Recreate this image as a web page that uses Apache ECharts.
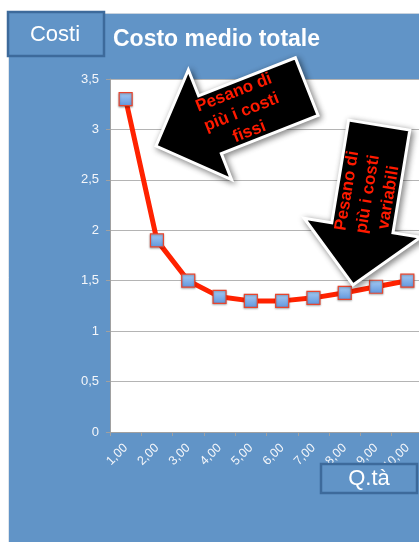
<!DOCTYPE html>
<html>
<head>
<meta charset="utf-8">
<title>Costo medio totale</title>
<script src="https://cdn.jsdelivr.net/npm/echarts@6/dist/echarts.min.js"></script>
<style>
  html, body { margin: 0; padding: 0; background: #ffffff; }
  #chart { width: 419px; height: 542px; }
</style>
</head>
<body>
<div id="chart"></div>
<script>
// Quantità prodotte (etichette asse X)
const qtyLabels = ['1,00', '2,00', '3,00', '4,00', '5,00', '6,00', '7,00', '8,00', '9,00', '10,00'];
// Costo medio totale per ciascuna quantità
const costoMedio = [3.3, 1.9, 1.5, 1.34, 1.3, 1.3, 1.33, 1.38, 1.44, 1.5];
// Scala dell'asse Y
const yMin = 0;
const yMax = 3.5;
const yStep = 0.5;

const chartTitle = 'Costo medio totale';
const yAxisName = 'Costi';
const xAxisName = 'Q.tà';
const notaFissi = 'Pesano di\npiù i costi\nfissi';
const notaVariabili = 'Pesano di\npiù i costi\nvariabili';

const PANEL = '#6194c7';
const BOX_BORDER = '#3d6a9b';
const FONT = '"Liberation Sans", Arial, Helvetica, sans-serif';

// Block arrow polygon: tip point, direction (degrees, screen coords),
// total length, head length, half head width, half shaft width.
function arrowPoints(tip, angleDeg, len, headLen, headHalf, shaftHalf) {
  const a = angleDeg * Math.PI / 180;
  const d = [Math.cos(a), Math.sin(a)];     // tail -> tip
  const n = [-d[1], d[0]];
  const p = (along, across) => [tip[0] - d[0] * along + n[0] * across,
                                 tip[1] - d[1] * along + n[1] * across];
  return [
    p(len, -shaftHalf), p(len, shaftHalf),
    p(headLen, shaftHalf), p(headLen, headHalf),
    tip,
    p(headLen, -headHalf), p(headLen, -shaftHalf)
  ];
}
function alongPoint(tip, angleDeg, along) {
  const a = angleDeg * Math.PI / 180;
  return [tip[0] - Math.cos(a) * along, tip[1] - Math.sin(a) * along];
}

function blockArrow(tip, angleDeg, text, textRot) {
  const c = alongPoint(tip, angleDeg, 92);
  return [
    {
      type: 'polygon',
      z: 100,
      shape: { points: arrowPoints(tip, angleDeg, 162, 58, 59, 31) },
      style: {
        fill: '#000000',
        stroke: '#ffffff',
        lineWidth: 3,
        lineJoin: 'miter',
        shadowBlur: 6,
        shadowOffsetX: 2,
        shadowOffsetY: 2,
        shadowColor: 'rgba(0,0,0,0.45)'
      }
    },
    {
      type: 'text',
      z: 101,
      x: c[0],
      y: c[1],
      rotation: textRot,
      style: {
        text: text,
        fill: '#ff1a00',
        font: 'bold 17px ' + FONT,
        lineHeight: 21,
        align: 'center',
        verticalAlign: 'middle'
      }
    }
  ];
}

const chart = echarts.init(document.getElementById('chart'), null, { renderer: 'canvas' });

chart.setOption({
  backgroundColor: PANEL,
  animation: false,
  grid: {
    left: 110,
    top: 79,
    width: 313,
    height: 353,
    show: true,
    backgroundColor: '#ffffff',
    borderWidth: 0,
    containLabel: false,
    outerBoundsMode: 'none'
  },
  xAxis: {
    type: 'category',
    data: qtyLabels,
    boundaryGap: true,
    axisLine: { show: true, lineStyle: { color: '#a0a0a0', width: 1 } },
    axisTick: { show: true, alignWithLabel: false, length: 4, lineStyle: { color: '#a0a0a0' } },
    axisLabel: {
      interval: 0,
      rotate: 45,
      margin: 14,
      color: '#f4f6fa',
      fontSize: 12.5,
      fontFamily: FONT
    },
    splitLine: { show: false }
  },
  yAxis: {
    type: 'value',
    min: yMin,
    max: yMax,
    interval: yStep,
    axisLine: { show: true, lineStyle: { color: '#a0a0a0', width: 1 } },
    axisTick: { show: true, length: 4, lineStyle: { color: '#a0a0a0' } },
    axisLabel: {
      margin: 11,
      color: '#f4f6fa',
      fontSize: 13,
      fontFamily: FONT,
      formatter: v => String(v).replace('.', ',')
    },
    splitLine: { show: true, lineStyle: { color: '#b4b4b4', width: 1 } }
  },
  series: [{
    type: 'line',
    data: costoMedio,
    lineStyle: { color: '#ff2200', width: 5 },
    symbol: 'rect',
    symbolSize: 13,
    itemStyle: {
      color: new echarts.graphic.LinearGradient(0, 0, 0, 1, [
        { offset: 0, color: '#a9cdf5' },
        { offset: 1, color: '#5f95dc' }
      ]),
      borderColor: '#e8452e',
      borderWidth: 1.2,
      shadowBlur: 2,
      shadowOffsetY: 1,
      shadowColor: 'rgba(0,0,0,0.3)'
    },
    z: 5
  }],
  graphic: {
    elements: [
      // white page margins around the blue panel
      { type: 'rect', z: 50, shape: { x: 0, y: 0, width: 419, height: 13 }, style: { fill: '#ffffff' } },
      { type: 'rect', z: 50, shape: { x: 0, y: 0, width: 9, height: 542 }, style: { fill: '#ffffff' } },
      { type: 'line', z: 51, shape: { x1: 9, y1: 13.5, x2: 419, y2: 13.5 }, style: { stroke: '#c9d3de', lineWidth: 1 } },
      { type: 'line', z: 51, shape: { x1: 8.5, y1: 13, x2: 8.5, y2: 542 }, style: { stroke: '#dfe5ec', lineWidth: 1 } },
      // title
      {
        type: 'text', z: 60, x: 113, y: 40,
        style: { text: chartTitle, fill: '#ffffff', font: 'bold 23px ' + FONT, verticalAlign: 'middle', align: 'left' }
      },
      // Y axis name box
      {
        type: 'rect', z: 60,
        shape: { x: 8, y: 12, width: 96, height: 44 },
        style: { fill: PANEL, stroke: BOX_BORDER, lineWidth: 2.5 }
      },
      {
        type: 'text', z: 61, x: 55, y: 35,
        style: { text: yAxisName, fill: '#ffffff', font: '22px ' + FONT, align: 'center', verticalAlign: 'middle' }
      },
      // X axis name box
      {
        type: 'rect', z: 60,
        shape: { x: 321, y: 464, width: 96, height: 29 },
        style: { fill: PANEL, stroke: BOX_BORDER, lineWidth: 2.5 }
      },
      {
        type: 'text', z: 61, x: 369, y: 479,
        style: { text: xAxisName, fill: '#ffffff', font: '22px ' + FONT, align: 'center', verticalAlign: 'middle' }
      }
    ]
      .concat(blockArrow([156, 146], 158.5, notaFissi, 0.375))
      .concat(blockArrow([353, 285], 99.3, notaVariabili, 1.408))
  }
});
</script>
</body>
</html>
